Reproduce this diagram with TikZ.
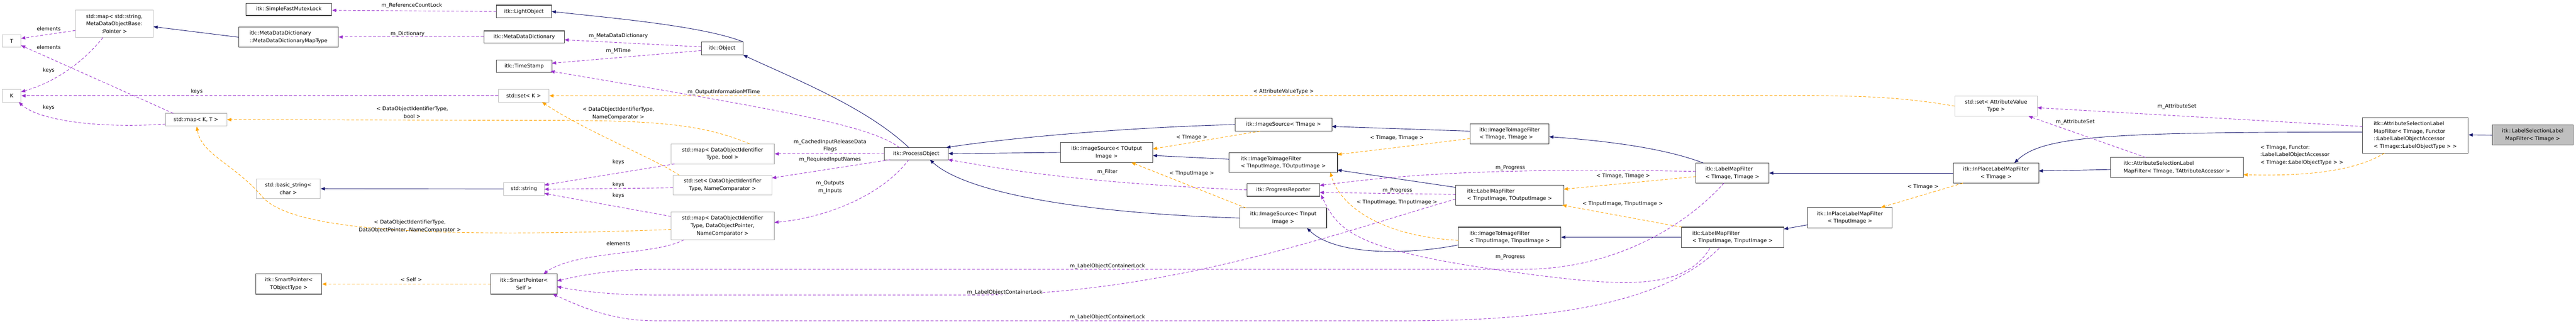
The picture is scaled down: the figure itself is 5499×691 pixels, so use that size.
\documentclass[tikz,border=0pt]{standalone}
\usepackage{fontspec}
\setmainfont{DejaVu Sans}
\usetikzlibrary{arrows.meta}
\definecolor{inhc}{HTML}{191970}
\definecolor{usec}{HTML}{9A32CD}
\definecolor{tplc}{HTML}{FFA500}
\definecolor{grayb}{HTML}{BFBFBF}
\begin{document}
\begin{tikzpicture}[x=1pt,y=-1pt,
  every node/.style={font=\fontsize{11}{16}\selectfont},
  box/.style={draw=black!75,line width=1.2pt,fill=white,inner sep=0pt,align=center},
  gbox/.style={box,draw=grayb},
  lbl/.style={inner sep=0pt,align=center},
  tip/.style={-{Triangle[length=9pt,width=7pt]}},
  inh/.style={tip,draw=inhc,line width=1pt},
  use/.style={tip,draw=usec,dashed,dash pattern=on 6pt off 4pt,line width=1pt,color=usec},
  tpl/.style={tip,draw=tplc,dashed,dash pattern=on 6pt off 4pt,line width=1pt,color=tplc}]
\useasboundingbox (0,0) rectangle (5499,691);
\fill[white] (0,0) rectangle (5499,691);
% nodes
\node[gbox,minimum width=40,minimum height=27] (T) at (25,87.5) {T};
\node[gbox,minimum width=40,minimum height=27] (K) at (25,204.5) {K};
\node[gbox,minimum width=166,minimum height=59] (mapStr) at (244,50.5) {std::map< std::string,\\MetaDataObjectBase:\\:Pointer >};
\node[gbox,minimum width=131,minimum height=27] (mapKT) at (418.5,255.5) {std::map< K, T >};
\node[gbox,minimum width=137,minimum height=42] (bstr) at (615.5,403) {std::basic\_string<\\char >};
\node[box,minimum width=141,minimum height=43] (spT) at (616.5,606.5) {itk::SmartPointer<\\TObjectType >};
\node[box,minimum width=183,minimum height=26] (sfml) at (616.5,20) {itk::SimpleFastMutexLock};
\node[box,minimum width=212,minimum height=43,align=left] (mddmt) at (616,79.5) {itk::MetaDataDictionary\\::MetaDataDictionaryMapType};
\node[box,minimum width=117,minimum height=27] (light) at (1118.5,24.5) {itk::LightObject};
\node[box,minimum width=172,minimum height=26] (mdd) at (1119,79) {itk::MetaDataDictionary};
\node[box,minimum width=118,minimum height=27] (ts) at (1119,141.5) {itk::TimeStamp};
\node[gbox,minimum width=108,minimum height=27] (setK) at (1118,204.5) {std::set< K >};
\node[gbox,minimum width=87,minimum height=27] (str) at (1118.5,403.5) {std::string};
\node[box,minimum width=141,minimum height=43] (spS) at (1118.5,606.5) {itk::SmartPointer<\\Self >};
\node[gbox,minimum width=221,minimum height=43] (mapB) at (1542.5,328.5) {std::map< DataObjectIdentifier\\Type, bool >};
\node[gbox,minimum width=211,minimum height=42] (setNC) at (1542.5,395) {std::set< DataObjectIdentifier\\Type, NameComparator >};
\node[gbox,minimum width=221,minimum height=59] (mapP) at (1542.5,482.5) {std::map< DataObjectIdentifier\\Type, DataObjectPointer,\\NameComparator >};
\node[box,minimum width=89,minimum height=27] (obj) at (1541.5,103.5) {itk::Object};
\node[box,minimum width=136,minimum height=26] (po) at (1956,328) {itk::ProcessObject};
\node[box,minimum width=197,minimum height=43] (isto) at (2362.5,325.5) {itk::ImageSource< TOutput\\Image >};
\node[box,minimum width=206,minimum height=28] (ist) at (2740,266) {itk::ImageSource< TImage >};
\node[box,minimum width=231,minimum height=42,align=left] (itifIO) at (2739.5,347) {itk::ImageToImageFilter\\< TInputImage, TOutputImage >};
\node[box,minimum width=155,minimum height=27] (pr) at (2739.5,405.5) {itk::ProgressReporter};
\node[box,minimum width=185,minimum height=43] (isin) at (2739.5,465.5) {itk::ImageSource< TInput\\Image >};
\node[box,minimum width=169,minimum height=43,align=left] (itifTT) at (3222.5,285.5) {itk::ImageToImageFilter\\< TImage, TImage >};
\node[box,minimum width=231,minimum height=43,align=left] (lmfIO) at (3222.5,416.5) {itk::LabelMapFilter\\< TInputImage, TOutputImage >};
\node[box,minimum width=219,minimum height=43,align=left] (itifII) at (3222.5,506.5) {itk::ImageToImageFilter\\< TInputImage, TInputImage >};
\node[box,minimum width=156,minimum height=43,align=left] (lmfTT) at (3698,369.5) {itk::LabelMapFilter\\< TImage, TImage >};
\node[box,minimum width=219,minimum height=43,align=left] (lmfII) at (3698.5,506.5) {itk::LabelMapFilter\\< TInputImage, TInputImage >};
\node[box,minimum width=180,minimum height=44] (ipIn) at (3949,465) {itk::InPlaceLabelMapFilter\\< TInputImage >};
\node[gbox,minimum width=176,minimum height=43] (setAV) at (4261,226.5) {std::set< AttributeValue\\Type >};
\node[box,minimum width=182,minimum height=43] (ipT) at (4261,369.5) {itk::InPlaceLabelMapFilter\\< TImage >};
\node[box,minimum width=284,minimum height=43,align=left] (asTA) at (4647,357.5) {itk::AttributeSelectionLabel\\MapFilter< TImage, TAttributeAccessor >};
\node[box,minimum width=226,minimum height=76,align=left] (asF) at (5156,289) {itk::AttributeSelectionLabel\\MapFilter< TImage, Functor\\::LabelLabelObjectAccessor\\< TImage::LabelObjectType > >};
\node[box,fill=grayb,minimum width=173,minimum height=43] (lsl) at (5406.5,288.5) {itk::LabelSelectionLabel\\MapFilter< TImage >};
% inheritance
\draw[inh] (mddmt.west) -- (mapStr.east |- 0,57);
\draw[inh] (obj.north east) .. controls (1500,55) and (1300,38) .. (light.east);
\draw[inh] (1940,315) .. controls (1850,230) and (1700,170) .. (obj.south east);
\draw[inh] (str.west) -- (bstr.east);
\draw[inh] (isto.west) -- (po.east);
\draw[inh] (ist.west) .. controls (2400,272) and (2150,295) .. (2020,315);
\draw[inh] (isin.west) .. controls (2300,455) and (2060,410) .. (1985,341);
\draw[inh] (2624,340) -- (2461,332);
\draw[inh] (3138,280) -- (2843,270);
\draw[inh] (3113,523) .. controls (3000,545) and (2850,545) .. (2790,487);
\draw[inh] (3107,400) -- (2855,363);
\draw[inh] (3636,348) .. controls (3550,315) and (3420,300) .. (3307,292);
\draw[inh] (lmfII.west) -- (itifII.east);
\draw[inh] (ipT.west) -- (lmfTT.east);
\draw[inh] (3859,480) -- (3808,489);
\draw[inh] (4505,362) -- (4352,365);
\draw[inh] (5043,282) .. controls (4500,282) and (4360,290) .. (4300,348);
\draw[inh] (lsl.west) -- (asF.east |- 0,288);
% template instances
\draw[tpl] (setAV.west) .. controls (4050,205) and (3950,204) .. (3800,204) -- (setK.east);
\node[lbl] (l1) at (2740,196) {< AttributeValueType >};
\draw[tpl] (1600,307) .. controls (1500,265) and (1400,258) .. (1200,257) -- (mapKT.east);
\node[lbl] (l2) at (880,240) {< DataObjectIdentifierType,\\bool >};
\draw[tpl] (1450,374) .. controls (1400,340) and (1250,280) .. (1157,218);
\node[lbl] (l3) at (1320,242) {< DataObjectIdentifierType,\\NameComparator >};
\draw[tpl] (1432,490) .. controls (900,510) and (620,490) .. (560,420) .. controls (500,350) and (430,330) .. (420,270);
\node[lbl] (l4) at (875,483) {< DataObjectIdentifierType,\\DataObjectPointer, NameComparator >};
\draw[tpl] (spS.west) -- (spT.east);
\node[lbl] (l5) at (878,597) {< Self >};
\draw[tpl] (2690,280) -- (2461,318);
\node[lbl] (l6) at (2544,293) {< TImage >};
\draw[tpl] (2660,444) -- (2415,347);
\node[lbl] (l7) at (2544,370) {< TInputImage >};
\draw[tpl] (3138,296) -- (2855,330);
\node[lbl] (l8) at (2982,295) {< TImage, TImage >};
\draw[tpl] (3113,513) .. controls (2950,505) and (2860,440) .. (2840,368);
\node[lbl] (l9) at (2982,432) {< TInputImage, TInputImage >};
\draw[tpl] (3620,377) -- (3338,404);
\node[lbl] (l10) at (3465,376) {< TImage, TImage >};
\draw[tpl] (3590,485) -- (3335,438);
\node[lbl] (l11) at (3464,435) {< TInputImage, TInputImage >};
\draw[tpl] (4190,391) -- (4015,443);
\node[lbl] (l12) at (4105,399) {< TImage >};
\draw[tpl] (5090,327) .. controls (5020,370) and (4900,376) .. (4789,373);
\node[lbl,align=left] (l13) at (4914,331) {< TImage, Functor:\\:LabelLabelObjectAccessor\\< TImage::LabelObjectType > >};
% usage
\draw[use] (light.west) -- (sfml.east |- 0,22);
\node[lbl] (u1) at (879,12) {m\_ReferenceCountLock};
\draw[use] (mdd.west) -- (mddmt.east |- 0,79);
\node[lbl] (u2) at (870,72) {m\_Dictionary};
\draw[use] (1497,100) -- (1205,85);
\node[lbl] (u3) at (1320,77) {m\_MetaDataDictionary};
\draw[use] (1497,108) -- (1178,135);
\node[lbl] (u4) at (1320,109) {m\_MTime};
\draw[use] (1920,315) .. controls (1860,270) and (1700,240) .. (1175,152);
\node[lbl] (u5) at (1545,197) {m\_OutputInformationMTime};
\draw[use] (161,65) -- (45,82);
\node[lbl] (u6) at (104,61) {elements};
\draw[use] (220,80) .. controls (180,130) and (120,175) .. (45,196);
\node[lbl] (u7) at (104,150) {keys};
\draw[use] (370,242) -- (45,97);
\node[lbl] (u8) at (104,101) {elements};
\draw[use] (353,265) .. controls (200,275) and (80,255) .. (40,218);
\node[lbl] (u9) at (104,230) {keys};
\draw[use] (setK.west) -- (K.east);
\node[lbl] (u10) at (420,196) {keys};
\draw[use] (1440,350) -- (1162,395);
\node[lbl] (u11) at (1320,346) {keys};
\draw[use] (setNC.west |- 0,401) -- (1162,404);
\node[lbl] (u12) at (1320,394) {keys};
\draw[use] (1432,462) -- (1162,413);
\node[lbl] (u13) at (1320,418) {keys};
\draw[use] (1460,512) .. controls (1400,545) and (1230,535) .. (1160,585);
\node[lbl] (u14) at (1320,520) {elements};
\draw[use] (po.west) -- (mapB.east);
\node[lbl] (u15) at (1772,311) {m\_CachedInputReleaseData\\Flags};
\draw[use] (1900,341) -- (1648,380);
\node[lbl] (u16) at (1772,341) {m\_RequiredInputNames};
\draw[use] (1940,341) .. controls (1880,420) and (1760,465) .. (1653,475);
\node[lbl] (u17) at (1772,400) {m\_Outputs\\m\_Inputs};
\draw[use] (pr.west) .. controls (2300,390) and (2150,362) .. (2024,341);
\node[lbl] (u18) at (2364,367) {m\_Filter};
\draw[use] (3620,366) .. controls (3200,358) and (3000,372) .. (2817,396);
\node[lbl] (u19) at (3224,359) {m\_Progress};
\draw[use] (3107,415) -- (2817,411);
\node[lbl] (u20) at (2983,407) {m\_Progress};
\draw[use] (3650,530) .. controls (3600,615) and (3480,612) .. (3300,590) .. controls (2900,540) and (2860,500) .. (2820,416);
\node[lbl] (u21) at (3224,549) {m\_Progress};
\draw[use] (3680,391) .. controls (3600,480) and (3450,575) .. (3250,575) -- (1400,575) .. controls (1300,575) and (1230,590) .. (1189,600);
\node[lbl] (u22) at (2364,568) {m\_LabelObjectContainerLock};
\draw[use] (3107,425) .. controls (2850,500) and (2500,625) .. (2100,630) -- (1400,630) .. controls (1300,630) and (1230,620) .. (1189,612);
\node[lbl,fill=white] (u23) at (2145,624) {m\_LabelObjectContainerLock};
\draw[use] (3670,530) .. controls (3550,650) and (3300,685) .. (3000,685) -- (1400,685) .. controls (1300,685) and (1230,650) .. (1180,628);
\node[lbl] (u24) at (2364,677) {m\_LabelObjectContainerLock};
\draw[use] (5043,270) -- (4349,230);
\node[lbl] (u25) at (4647,228) {m\_AttributeSet};
\draw[use] (4580,336) -- (4330,248);
\node[lbl] (u26) at (4430,261) {m\_AttributeSet};
\end{tikzpicture}
\end{document}
